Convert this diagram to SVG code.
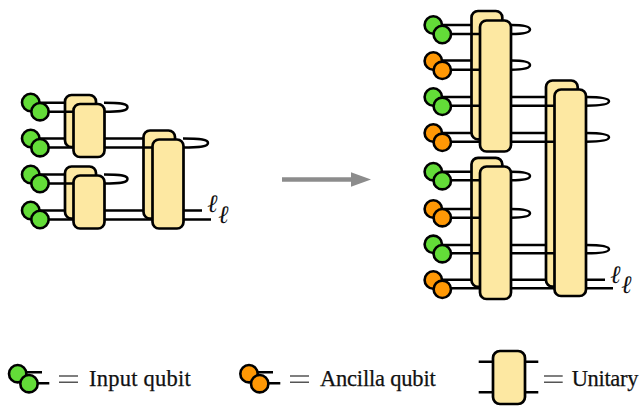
<svg xmlns="http://www.w3.org/2000/svg" width="643" height="406" viewBox="0 0 643 406">
<style>
.w{fill:none;stroke:#000;stroke-width:2.5;stroke-linecap:butt}
.u{fill:#fde8a2;stroke:#000;stroke-width:2.7}
.g{fill:#63dc38;stroke:#000;stroke-width:2.6}
.o{fill:#ff9805;stroke:#000;stroke-width:2.6}
circle{r:8.7px}
.t{font-family:"Liberation Serif",serif;font-size:22.5px;fill:#111;stroke:#111;stroke-width:.25}
.l{font-family:"DejaVu Serif",serif;font-style:italic;font-size:25px;fill:#111}
.e{fill:none;stroke:#555;stroke-width:1.5}
</style>
<rect width="643" height="406" fill="#fff"/>
<g id="connectors-left-back">
<path class="w" d="M31 102.700H66M31 138.500H66M31 174.500H66M31 210.500H66"/>
<path class="w" d="M104 138.500H144M104 210.500H144M183 210.500H202"/>
</g>
<g id="unitaries-left-back">
<rect class="u" x="65" y="95" width="31" height="52" rx="6.500"/>
<rect class="u" x="65" y="166.500" width="31" height="52" rx="6.500"/>
<rect class="u" x="143.500" y="130.500" width="31.500" height="88" rx="6.500"/>
</g>
<g id="connectors-left-front">
<path class="w" d="M40 111.700H74M40 147.500H74M40 183.500H74M40 219.500H74"/>
<path class="w" d="M104 147.500H153M104 219.500H153M183 219.500H211"/>
<path class="w" d="M104 102.700C122 102.700 127.500 104 127.500 107.200C127.500 110.400 122 111.700 104 111.700"/>
<path class="w" d="M104 174.500C122 174.500 127.500 175.800 127.500 179C127.500 182.200 122 183.500 104 183.500"/>
<path class="w" d="M183 138.500C201 138.500 208 139.800 208 143C208 146.200 201 147.500 183 147.500"/>
</g>
<g id="unitaries-left-front">
<rect class="u" x="73.500" y="104" width="31" height="53" rx="6.500"/>
<rect class="u" x="73.500" y="175.500" width="31" height="53" rx="6.500"/>
<rect class="u" x="152.500" y="139.500" width="31" height="89" rx="6.500"/>
</g>
<g id="qubits-left">
<circle class="g" cx="30.700" cy="102.500" r="8.700"/><circle class="g" cx="40" cy="111.700" r="8.700"/>
<circle class="g" cx="30.700" cy="138.500" r="8.700"/><circle class="g" cx="40" cy="147.700" r="8.700"/>
<circle class="g" cx="30.700" cy="174.500" r="8.700"/><circle class="g" cx="40" cy="183.500" r="8.700"/>
<circle class="g" cx="30.700" cy="210.500" r="8.700"/><circle class="g" cx="40" cy="219.500" r="8.700"/>
</g>
<text class="l" x="207" y="212">ℓ</text>
<text class="l" x="218" y="223">ℓ</text>
<path id="arrow" d="M282 179.500H352" fill="none" stroke="#8c8c8c" stroke-width="4.500"/>
<path id="arrowhead" d="M371 179.500L351 172.300V186.700Z" fill="#8c8c8c"/>
<g id="connectors-right-back">
<path class="w" d="M433 25H472M433 60.500H472M433 97H472M433 133H472M433 171.700H472M433 209H472M433 245H472M433 279.700H472"/>
<path class="w" d="M511 97H547M511 133H547M511 245H547M511 279.700H547M586 279.700H605"/>
</g>
<g id="unitaries-right-back">
<rect class="u" x="471.500" y="11" width="30.800" height="128.300" rx="6.500"/>
<rect class="u" x="471.500" y="157.800" width="30.800" height="129" rx="6.500"/>
<rect class="u" x="546" y="80.500" width="31.700" height="206.200" rx="6.500"/>
</g>
<g id="connectors-right-front">
<path class="w" d="M442 34H480M442 69.700H480M442 105.700H480M442 141.700H480M442 180.300H480M442 217.700H480M442 253.300H480M442 288.300H480"/>
<path class="w" d="M511 105.700H555M511 141.700H555M511 253.300H555M511 288.300H555M586 288.300H613"/>
<path class="w" d="M511 25C524 25 530 26.500 530 29.500C530 32.500 524 34 511 34"/>
<path class="w" d="M511 60.500C524 60.500 530 62 530 65C530 68 524 69.700 511 69.700"/>
<path class="w" d="M511 171.700C524 171.700 530 173 530 176C530 179 524 180.300 511 180.300"/>
<path class="w" d="M511 209C524 209 530 210.500 530 213.300C530 216.200 524 217.700 511 217.700"/>
<path class="w" d="M586 97C602 97 609 98.500 609 101.300C609 104.200 602 105.700 586 105.700"/>
<path class="w" d="M586 133C602 133 609 134.500 609 137.300C609 140.200 602 141.700 586 141.700"/>
<path class="w" d="M586 245C602 245 609 246.500 609 249.200C609 251.800 602 253.300 586 253.300"/>
</g>
<g id="unitaries-right-front">
<rect class="u" x="480" y="20.500" width="31" height="131" rx="6.500"/>
<rect class="u" x="480" y="166.500" width="31" height="132.500" rx="6.500"/>
<rect class="u" x="554.500" y="89.500" width="31.500" height="206.500" rx="6.500"/>
</g>
<g id="qubits-right">
<circle class="g" cx="433.300" cy="25" r="8.700"/><circle class="g" cx="442.300" cy="34.500" r="8.700"/>
<circle class="o" cx="433.300" cy="61" r="8.700"/><circle class="o" cx="442.300" cy="70.300" r="8.700"/>
<circle class="g" cx="433.300" cy="97" r="8.700"/><circle class="g" cx="442.300" cy="106.300" r="8.700"/>
<circle class="o" cx="433.300" cy="133" r="8.700"/><circle class="o" cx="442.300" cy="142.300" r="8.700"/>
<circle class="g" cx="433.300" cy="171.700" r="8.700"/><circle class="g" cx="442.300" cy="180.700" r="8.700"/>
<circle class="o" cx="433.300" cy="209" r="8.700"/><circle class="o" cx="442.300" cy="217.700" r="8.700"/>
<circle class="g" cx="433.300" cy="244.300" r="8.700"/><circle class="g" cx="442.300" cy="253.700" r="8.700"/>
<circle class="o" cx="433.300" cy="280" r="8.700"/><circle class="o" cx="442.300" cy="289.300" r="8.700"/>
</g>
<text class="l" x="610" y="283">ℓ</text>
<text class="l" x="621" y="293">ℓ</text>
<g id="legend-input">
<path class="w" d="M18 372.300H42M29 383.300H49.300"/>
<circle class="g" cx="17.700" cy="373.700" r="8.700"/><circle class="g" cx="29" cy="383.700" r="8.700"/>
<path class="e" d="M59 376H78M59 382.300H78"/>
<text class="t" x="89" y="385.700" textLength="101.700" lengthAdjust="spacing">Input qubit</text>
</g>
<g id="legend-ancilla">
<path class="w" d="M249 372.300H273M260 383.300H280.300"/>
<circle class="o" cx="249" cy="373.700" r="8.700"/><circle class="o" cx="259.700" cy="383.700" r="8.700"/>
<path class="e" d="M290 376H309M290 382.300H309"/>
<text class="t" x="320" y="385.700" textLength="115.700" lengthAdjust="spacing">Ancilla qubit</text>
</g>
<g id="legend-unitary">
<path class="w" d="M478.700 361.700H538.300M478.700 392.300H538.300"/>
<rect class="u" x="493" y="351" width="32" height="53" rx="7"/>
<path class="e" d="M544 376H562.700M544 382.300H562.700"/>
<text class="t" x="571.700" y="385.700" textLength="66.700" lengthAdjust="spacing">Unitary</text>
</g>
</svg>
